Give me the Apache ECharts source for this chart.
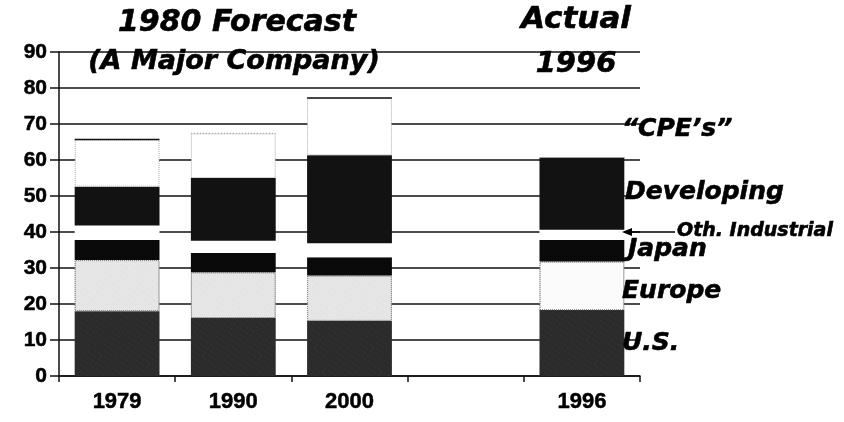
<!DOCTYPE html>
<html>
<head>
<meta charset="utf-8">
<script src="https://cdn.jsdelivr.net/npm/echarts@6/dist/echarts.min.js"></script>
<style>
html,body{margin:0;padding:0;background:#fff;}
#chart{width:844px;height:422px;}
</style>
</head>
<body>
<div id="chart"></div>
<script>
// ---- data ----
const categories = ['1979', '1990', '2000', '', '1996'];
const usValues = [18.0, 16.1, 15.3, null, 18.3];
const europeValues = [14.2, 12.7, 12.6, null, 13.5];
const japanValues = [5.6, 5.4, 5.1, null, 6.0];
const othIndustrialValues = [4.0, 3.4, 3.9, null, 2.8];
const developingValues = [10.8, 17.4, 24.4, null, 20.1];
const cpeValues = [13.1, 12.4, 15.9, null, 0];
const cpeCapStyle = ['solid', 'dotted', 'solid', null, null];
const yAxisMin = 0, yAxisMax = 90, yAxisStep = 10;
const titleForecast = '1980 Forecast';
const titleCompany = '(A Major Company)';
const titleActual = 'Actual';
const titleActualYear = '1996';
const segmentLabels = ['\u201CCPE\u2019s\u201D', 'Developing', 'Oth. Industrial', 'Japan', 'Europe', 'U.S.'];

const chart = echarts.init(document.getElementById('chart'), null, {renderer: 'canvas'});

const barW = '73%';
const ink = '#111';

const capData = categories.map((c, i) => {
  if (!cpeCapStyle[i]) return null;
  const total = usValues[i] + europeValues[i] + japanValues[i] + othIndustrialValues[i] + developingValues[i] + cpeValues[i];
  return [i, total, cpeCapStyle[i] === 'solid' ? 1 : 0];
}).filter(d => d);

function txt(text, x, baseline, size, align) {
  return {
    type: 'text', z: 100,
    style: {
      text: text, x: x, y: baseline - size * 0.36,
      fontStyle: 'italic', fontWeight: 'bold', fontSize: size, fontFamily: '"DejaVu Sans"',
      fill: '#000', stroke: '#000', lineWidth: 0.6,
      align: align || 'left', verticalAlign: 'middle'
    }
  };
}

const axisFont = {color: '#000', fontFamily: '"Liberation Sans", Arial, sans-serif', fontWeight: 'bold',
  textBorderColor: '#000', textBorderWidth: 0.5};

const option = {
  animation: false,
  backgroundColor: '#fff',
  grid: {left: 59, right: 204, top: 52, bottom: 46, containLabel: false},
  xAxis: {
    type: 'category',
    data: categories,
    axisLine: {lineStyle: {color: ink, width: 1.5}},
    axisTick: {show: true, length: 6, lineStyle: {color: ink, width: 1.5}},
    axisLabel: Object.assign({fontSize: 22, margin: 15}, axisFont)
  },
  yAxis: {
    type: 'value', min: yAxisMin, max: yAxisMax, interval: yAxisStep,
    axisLine: {show: true, lineStyle: {color: ink, width: 1.5}},
    axisTick: {show: true, length: 9, lineStyle: {color: ink, width: 1.5}},
    axisLabel: Object.assign({fontSize: 21, margin: 12}, axisFont),
    splitLine: {show: true, lineStyle: {color: ink, width: 1.5}}
  },
  series: [
    {name: 'U.S.', type: 'bar', stack: 'a', barWidth: barW, data: usValues,
     itemStyle: {color: '#2b2b2b',
       decal: {symbol: 'rect', symbolSize: 0.5, color: 'rgba(255,255,255,0.28)', dashArrayX: [1, 3], dashArrayY: [1, 4], rotation: 0.6}}},
    {name: 'Europe', type: 'bar', stack: 'a', barWidth: barW,
     data: europeValues.map((v, i) => i === 4 ? {value: v, itemStyle: {color: '#fbfbfb', decal: {symbol: 'rect', symbolSize: 0.5, color: 'rgba(0,0,0,0)'}}} : v),
     itemStyle: {color: '#e6e6e6', borderColor: '#888', borderType: 'dotted', borderWidth: 1,
       decal: {symbol: 'rect', symbolSize: 0.5, color: 'rgba(0,0,0,0.18)', dashArrayX: [1, 3], dashArrayY: [1, 4], rotation: 0.6}}},
    {name: 'Japan', type: 'bar', stack: 'a', barWidth: barW, data: japanValues,
     itemStyle: {color: '#0a0a0a'}},
    {name: 'Oth. Industrial', type: 'bar', stack: 'a', barWidth: barW, data: othIndustrialValues,
     itemStyle: {color: '#ffffff'}},
    {name: 'Developing', type: 'bar', stack: 'a', barWidth: barW, data: developingValues,
     itemStyle: {color: '#121212'}},
    {name: "CPE's", type: 'bar', stack: 'a', barWidth: barW, data: cpeValues,
     itemStyle: {color: '#ffffff', borderColor: '#aaa', borderType: 'dotted', borderWidth: 1}},
    {name: 'cap', type: 'custom', data: capData, z: 5,
     renderItem: function (params, api) {
       const p = api.coord([api.value(0), api.value(1)]);
       const w = api.size([1, 0])[0] * 0.73;
       const solid = api.value(2) === 1;
       return {type: 'line', shape: {x1: p[0] - w / 2, y1: p[1], x2: p[0] + w / 2, y2: p[1]},
         style: {stroke: solid ? '#111' : '#999', lineWidth: solid ? 1.5 : 1, lineDash: solid ? null : [1, 2]}};
     }}
  ],
  graphic: [
    txt(titleForecast, 237, 34, 30, 'center'),
    txt(titleCompany, 234, 72, 27, 'center'),
    txt(titleActual, 576, 31, 31, 'center'),
    txt(titleActualYear, 576, 75, 29, 'center'),
    txt(segmentLabels[0], 622, 138, 25),
    txt(segmentLabels[1], 625, 201, 25),
    txt(segmentLabels[2], 677, 238, 19),
    txt(segmentLabels[3], 628, 258, 25),
    txt(segmentLabels[4], 622, 300, 25),
    txt(segmentLabels[5], 622, 352, 25),
    {type: 'line', z: 100, shape: {x1: 626, y1: 232, x2: 675, y2: 232}, style: {stroke: '#000', lineWidth: 1.5}},
    {type: 'polygon', z: 100, shape: {points: [[622, 232], [632, 228], [632, 236]]}, style: {fill: '#000'}}
  ]
};
chart.setOption(option);
</script>
</body>
</html>
